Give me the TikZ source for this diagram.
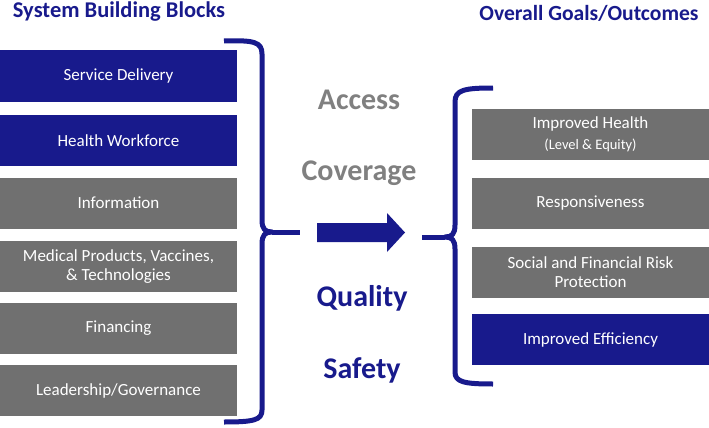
\documentclass[tikz,border=0pt]{standalone}
\usepackage{fontspec}
\setmainfont{Carlito}
\usetikzlibrary{calc}
\definecolor{navy}{RGB}{24,26,140}
\definecolor{boxgray}{RGB}{112,112,112}
\definecolor{wordgray}{RGB}{128,128,128}
\tikzset{
 block/.style={fill=#1, text=white, minimum width=237, minimum height=51, inner sep=0, align=center, font=\fontsize{17}{19}\selectfont},
 title/.style={text=navy, font=\fontsize{#1}{26}\selectfont\bfseries},
 word/.style={text=#1, font=\fontsize{30}{34}\selectfont\bfseries},
 brace/.style={navy, line width=5, line join=round}
}
\begin{document}
\begin{tikzpicture} [x=1pt, y=-1pt]
\useasboundingbox (0,0) rectangle (709,428);
\node[title=22.5] (lefttitle) at (119,12) {System Building Blocks};
\node[title=21.6] (righttitle) at (589,13) {Overall Goals/Outcomes};
\foreach \y/\c/\n/\t in {76/navy/sd/Service Delivery, 140.5/navy/hw/Health Workforce, 203/boxgray/info/Information, 266.5/boxgray/med/{Medical Products, Vaccines,\\ \& Technologies}, 328.5/boxgray/fin/Financing, 390.5/boxgray/lead/{Leadership/Governance}} {
 \node[block=\c] (\n) at (118.5,\y) {\t};
}
\foreach \y/\c/\n/\t in {134/boxgray/health/{Improved Health\\[2pt] {\fontsize{14.5}{16}\selectfont (Level \& Equity)}}, 203.5/boxgray/resp/Responsiveness, 272/boxgray/risk/{Social and Financial Risk\\ Protection}, 339.5/navy/eff/Improved Efficiency} {
 \node[block=\c] (\n) at (590.5,\y) {\t};
}
\node[word=wordgray] (access) at (359,100) {Access};
\node[word=wordgray] (coverage) at (359,173) {Coverage};
\node[word=navy] (quality) at (362,298) {Quality};
\node[word=navy] (safety) at (362,370) {Safety};
\draw[brace] (224,41) .. controls (254,40) and (262,42) .. (262,54) -- (262,220) .. controls (262,229) and (265,232) .. (272,232) .. controls (265,232) and (262,235) .. (262,244) -- (262,410) .. controls (262,420) and (254,422) .. (224,422);
\draw[brace] (272,232) -- (300,232);
\draw[brace] (493,88) .. controls (464,88) and (455,90) .. (455,102) -- (455,225) .. controls (455,234) and (452,237) .. (445,237) .. controls (452,237) and (455,240) .. (455,249) -- (455,372) .. controls (455,382) and (464,384) .. (493,384);
\draw[brace] (445,237) -- (422,237);
\fill[navy] (317,223) -- (387,223) -- (387,213) -- (405,232.5) -- (387,252) -- (387,242) -- (317,242) -- cycle;
\end{tikzpicture}
\end{document}
